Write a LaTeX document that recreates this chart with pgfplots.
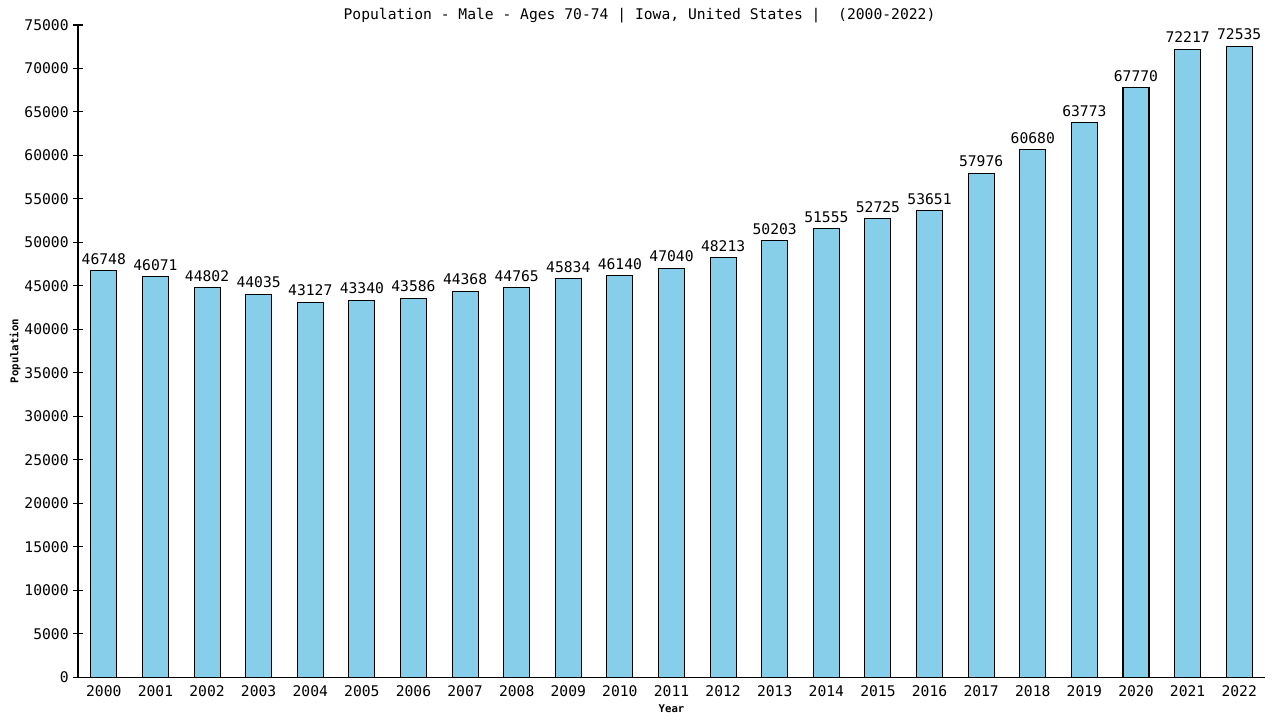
\documentclass[border=0pt]{standalone}
\usepackage{fontspec}
\setmainfont{DejaVu Sans Mono}
\usepackage{pgfplots}
\pgfplotsset{compat=1.18}
\definecolor{barblue}{RGB}{135,206,235}

\begin{document}
\begin{tikzpicture}
  \begin{axis}[
      name=ax,
      scale only axis,
      width=890pt, height=489pt,
      xmin=-0.5, xmax=22.5,
      ymin=0, ymax=75000,
      ytick={0,5000,...,75000},
      xtick={0,...,22},
      xticklabels={2000,2001,2002,2003,2004,2005,2006,2007,2008,2009,2010,2011,2012,2013,2014,2015,2016,2017,2018,2019,2020,2021,2022},
      axis x line*=bottom, axis y line*=left,
      axis line style={black, line width=0.9pt, -},
      tick align=center,
      major tick length=7pt,
      every tick/.style={black, line width=0.8pt},
      x tick style={draw=none},
      tick label style={font=\fontsize{11}{12}\selectfont},
      xticklabel style={yshift=4.5pt},
      /pgf/number format/assume math mode=true,
      /pgf/number format/.cd, fixed, 1000 sep={}, /pgfplots/.cd,
      scaled y ticks=false,
      title={Population - Male - Ages 70-74 | Iowa, United States |\ \ (2000-2022)},
      title style={font=\fontsize{11}{12}\selectfont, at={(0.5,1)}, anchor=south, xshift=-24pt, yshift=-8pt},
      xlabel={Year}, ylabel={Population},
      label style={font=\fontsize{8}{9}\bfseries\selectfont},
      xlabel style={yshift=0.5pt},
      ylabel style={yshift=-4pt},
      clip=false,
      ybar, bar width=19.5pt,
      nodes near coords,
      nodes near coords style={font=\fontsize{11}{12}\selectfont, yshift=1pt, /pgf/number format/.cd, fixed, 1000 sep={}},
    ]
    \addplot[fill=barblue, draw=black, line width=0.8pt] coordinates {
      (0,46748) (1,46071) (2,44802) (3,44035) (4,43127) (5,43340) (6,43586)
      (7,44368) (8,44765) (9,45834) (10,46140) (11,47040) (12,48213) (13,50203)
      (14,51555) (15,52725) (16,53651) (17,57976) (18,60680) (19,63773)
      (20,67770) (21,72217) (22,72535)
    };
  \end{axis}
  \pgfresetboundingbox
  \path ([xshift=-58.5pt,yshift=-32.25pt]ax.south west) rectangle ([xshift=11.25pt,yshift=18.75pt]ax.north east);
\end{tikzpicture}
\end{document}
